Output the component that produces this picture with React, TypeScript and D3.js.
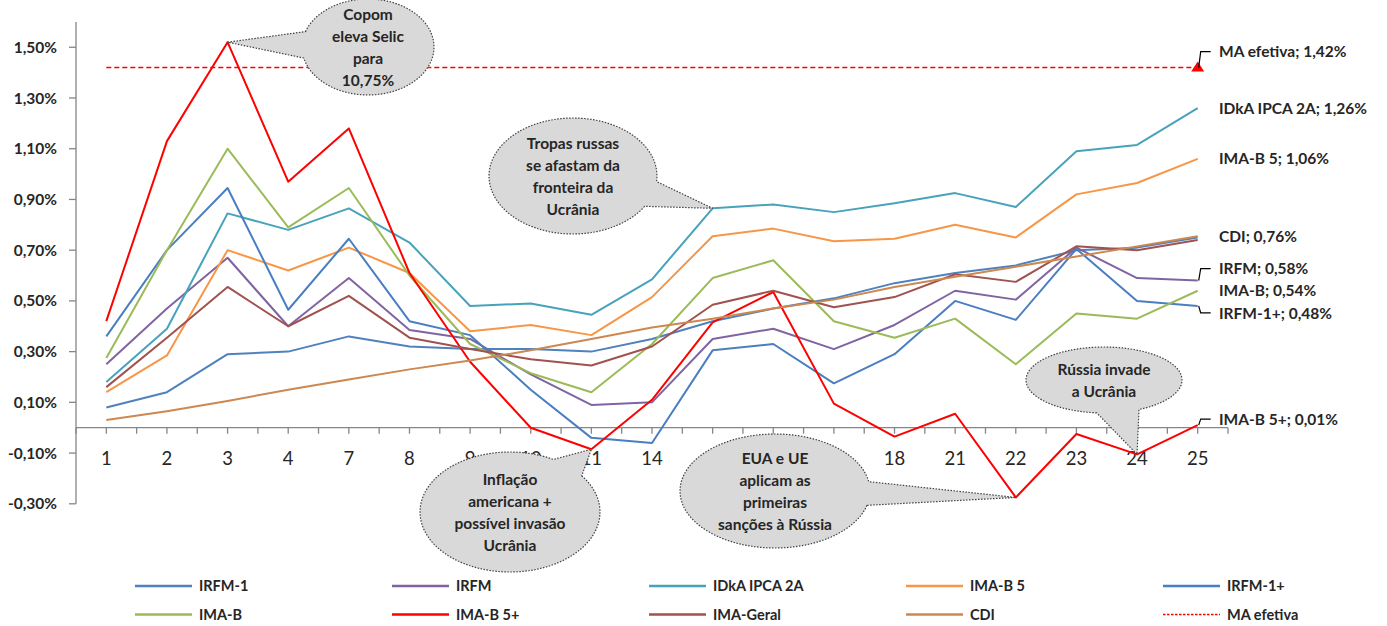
import React from "react";
import * as d3 from "d3";

const categories = ["1","2","3","4","7","8","9","10","11","14","15","16","17","18","21","22","23","24","25"];

const irfm1 = [0.08,0.14,0.29,0.30,0.36,0.32,0.31,0.31,0.30,0.35,0.42,0.47,0.51,0.57,0.61,0.64,0.70,0.71,0.75];
const irfm = [0.25,0.47,0.67,0.40,0.59,0.385,0.35,0.21,0.09,0.10,0.35,0.39,0.31,0.405,0.54,0.505,0.71,0.59,0.58];
const idka = [0.18,0.39,0.845,0.78,0.865,0.73,0.48,0.49,0.445,0.585,0.865,0.88,0.85,0.885,0.925,0.87,1.09,1.115,1.26];
const imab5 = [0.14,0.285,0.70,0.62,0.71,0.61,0.38,0.405,0.365,0.515,0.755,0.785,0.735,0.745,0.80,0.75,0.92,0.965,1.06];
const irfm1p = [0.36,0.70,0.945,0.465,0.745,0.42,0.365,0.15,-0.04,-0.06,0.305,0.33,0.175,0.29,0.50,0.425,0.705,0.50,0.48];
const imab = [0.275,0.70,1.10,0.79,0.945,0.60,0.33,0.215,0.14,0.33,0.59,0.66,0.42,0.355,0.43,0.25,0.45,0.43,0.54];
const imab5p = [0.42,1.13,1.52,0.97,1.18,0.61,0.26,0.00,-0.085,0.11,0.415,0.535,0.095,-0.035,0.055,-0.275,-0.025,-0.105,0.01];
const imaGeral = [0.16,0.355,0.555,0.40,0.52,0.355,0.31,0.27,0.245,0.32,0.485,0.54,0.475,0.515,0.605,0.575,0.715,0.70,0.74];
const cdi = [0.03,0.065,0.105,0.15,0.19,0.23,0.265,0.305,0.35,0.395,0.43,0.47,0.505,0.555,0.595,0.635,0.675,0.715,0.755];
const maEfetiva = categories.map(() => 1.42);

const yTicks = [-0.3,-0.1,0.1,0.3,0.5,0.7,0.9,1.1,1.3,1.5];

const seriesNames = ["IRFM-1","IRFM","IDkA IPCA 2A","IMA-B 5","IRFM-1+","IMA-B","IMA-B 5+","IMA-Geral","CDI","MA efetiva"];
const seriesValues = [irfm1, irfm, idka, imab5, irfm1p, imab, imab5p, imaGeral, cdi, maEfetiva];
const seriesColors = ["#4F81BD","#8064A2","#47A3BB","#F79646","#4A7EC0","#9BBB59","#FF0000","#A0524F","#CC8850","#FF0000"];

const endLabels = [
  { s: 9, text: "MA efetiva; 1,42%", dy: -16 },
  { s: 2, text: "IDkA IPCA 2A; 1,26%", dy: 0 },
  { s: 3, text: "IMA-B 5; 1,06%", dy: 0 },
  { s: 8, text: "CDI; 0,76%", dy: 0 },
  { s: 1, text: "IRFM; 0,58%", dy: -12 },
  { s: 5, text: "IMA-B; 0,54%", dy: 0 },
  { s: 4, text: "IRFM-1+; 0,48%", dy: 7 },
  { s: 6, text: "IMA-B 5+; 0,01%", dy: -6 },
];

const callouts = [
  { lines: ["Copom","eleva Selic","para","10,75%"], s: 6, c: 2, cx: 368, cy: 47, rx: 66, ry: 48, half: 16 },
  { lines: ["Tropas russas","se afastam da","fronteira da","Ucrânia"], s: 2, c: 10, cx: 573, cy: 176, rx: 84, ry: 58, half: 13 },
  { lines: ["Inflação","americana +","possível invasão","Ucrânia"], s: 6, c: 8, cx: 510, cy: 512, rx: 90, ry: 60, half: 12 },
  { lines: ["EUA e UE","aplicam as","primeiras","sanções à Rússia"], s: 6, c: 15, cx: 775, cy: 491, rx: 95, ry: 57, half: 12 },
  { lines: ["Rússia invade","a Ucrânia"], s: 6, c: 17, cx: 1104, cy: 380, rx: 78, ry: 33, half: 16 },
];

const FONT = "Lato, 'Open Sans', sans-serif";
const TXT = "#262626";

function balloonPath(cx: number, cy: number, rx: number, ry: number, tx: number, ty: number, halfDeg: number) {
  const phi = Math.atan2((ty - cy) / ry, (tx - cx) / rx);
  const h = (halfDeg * Math.PI) / 180;
  const a0 = phi + h;
  const a1 = phi - h + 2 * Math.PI;
  const n = 120;
  const pts: [number, number][] = [];
  for (let i = 0; i <= n; i++) {
    const a = a0 + ((a1 - a0) * i) / n;
    pts.push([cx + rx * Math.cos(a), cy + ry * Math.sin(a)]);
  }
  pts.push([tx, ty]);
  return "M" + pts.map((p) => p[0].toFixed(2) + "," + p[1].toFixed(2)).join("L") + "Z";
}

export default function App() {
  const x = d3.scaleBand<string>().domain(categories).range([76, 1228]).paddingInner(0).paddingOuter(0);
  const bw = x.bandwidth();
  const cx = (c: string) => (x(c) as number) + bw / 2;
  const y = d3.scaleLinear().domain([-0.3, 1.6]).range([503.8, 21.9]);

  const line = d3
    .line<number>()
    .x((_, i) => cx(categories[i]))
    .y((d) => y(d));

  const fmt = (v: number) => v.toFixed(2).replace(".", ",") + "%";

  const xTickPos: number[] = [];
  categories.forEach((c) => {
    xTickPos.push(x(c) as number);
    xTickPos.push(cx(c));
  });
  xTickPos.push(1228);

  const lastX = cx(categories[categories.length - 1]);

  return (
    <svg
      width={1387}
      height={626}
      style={{ position: "absolute", left: 0, top: 0, background: "#fff" }}
      fontFamily={FONT}
    >
      <line x1={76} x2={76} y1={y(1.6)} y2={y(-0.3)} stroke="#868686" strokeWidth={1.3} />
      {yTicks.map((t) => (
        <g key={"yt" + t}>
          <line x1={69} x2={76} y1={y(t)} y2={y(t)} stroke="#868686" strokeWidth={1.3} />
          <text x={57} y={y(t)} dy="0.36em" textAnchor="end" fontSize={15.5} fontWeight={700} fill={TXT}>
            {fmt(t)}
          </text>
        </g>
      ))}
      <line x1={76} x2={1228} y1={y(0)} y2={y(0)} stroke="#868686" strokeWidth={1.3} />
      {xTickPos.map((p, i) => (
        <line key={"xt" + i} x1={p} x2={p} y1={y(0)} y2={y(0) + 6} stroke="#868686" strokeWidth={1.3} />
      ))}
      {categories.map((c) => (
        <text key={"xl" + c} x={cx(c)} y={458} dy="0.36em" textAnchor="middle" fontSize={18.5} fill={TXT}>
          {c}
        </text>
      ))}

      {seriesValues.map((vals, si) =>
        si === 9 ? (
          <path key={"s" + si} d={line(vals) || ""} fill="none" stroke={seriesColors[si]} strokeWidth={1.5} strokeDasharray="5 3" />
        ) : (
          <path key={"s" + si} d={line(vals) || ""} fill="none" stroke={seriesColors[si]} strokeWidth={2} strokeLinejoin="round" />
        )
      )}
      <path
        d={`M${lastX},${y(1.42) - 6}L${lastX + 6.5},${y(1.42) + 4}L${lastX - 6.5},${y(1.42) + 4}Z`}
        fill="#FF0000"
      />

      {endLabels.map((l) => {
        const vals = seriesValues[l.s];
        const yv = y(vals[vals.length - 1]);
        const ly = yv + l.dy;
        return (
          <g key={"el" + l.text}>
            {l.dy !== 0 && (
              <path
                d={`M${lastX + 1},${yv}L${lastX + 3},${ly}L${lastX + 13},${ly}`}
                fill="none"
                stroke="#000"
                strokeWidth={1.2}
              />
            )}
            <text x={1219} y={ly} dy="0.36em" fontSize={15.5} fontWeight={700} fill={TXT}>
              {l.text}
            </text>
          </g>
        );
      })}

      {callouts.map((co, i) => {
        const tx = cx(categories[co.c]);
        const ty = y(seriesValues[co.s][co.c]);
        const lh = 22;
        const startY = co.cy - ((co.lines.length - 1) * lh) / 2;
        return (
          <g key={"co" + i}>
            <path
              d={balloonPath(co.cx, co.cy, co.rx, co.ry, tx, ty, co.half)}
              fill="#D9D9D9"
              stroke="#404040"
              strokeWidth={1.2}
              strokeDasharray="1.5 1.5"
            />
            {co.lines.map((ln, j) => (
              <text
                key={j}
                x={co.cx}
                y={startY + j * lh}
                dy="0.36em"
                textAnchor="middle"
                fontSize={15.5}
                fontWeight={700}
                fill={TXT}
              >
                {ln}
              </text>
            ))}
          </g>
        );
      })}

      {seriesNames.map((n, i) => {
        const col = i % 5;
        const row = Math.floor(i / 5);
        const lx = 135 + col * 257;
        const ly = 586 + row * 28.5;
        return (
          <g key={"lg" + n}>
            <line
              x1={lx}
              x2={lx + 57}
              y1={ly}
              y2={ly}
              stroke={seriesColors[i]}
              strokeWidth={i === 9 ? 1.5 : 2.5}
              strokeDasharray={i === 9 ? "2.5 1.5" : undefined}
            />
            <text x={lx + 64} y={ly} dy="0.36em" fontSize={14.5} fontWeight={700} fill={TXT}>
              {n}
            </text>
          </g>
        );
      })}
    </svg>
  );
}
